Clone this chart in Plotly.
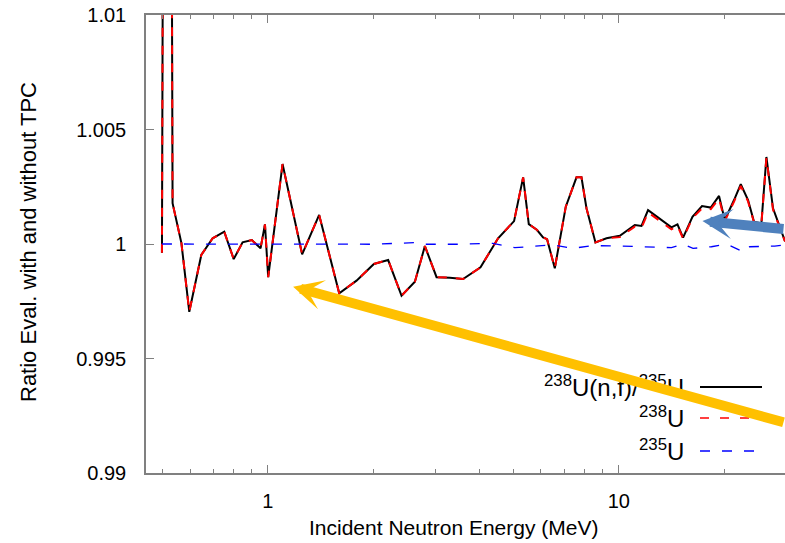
import plotly.graph_objects as go
import numpy as np

# ---------------- data ----------------
energy = [0.499, 0.517, 0.535, 0.567, 0.597, 0.646, 0.696, 0.751, 0.799, 0.847,
          0.900, 0.953, 0.981, 1.002, 1.101, 1.252, 1.400, 1.597, 1.789, 2.005,
          2.202, 2.404, 2.624, 2.802, 3.025, 3.300, 3.600, 4.036, 4.530, 5.031,
          5.339, 5.541, 5.850, 6.085, 6.247, 6.572, 7.063, 7.578, 7.829, 8.091,
          8.583, 9.226, 10.07, 11.11, 11.61, 12.12, 14.13, 14.70, 15.25, 16.22,
          17.27, 18.29, 19.31, 20.05, 21.31, 22.27, 23.36, 24.29, 25.50, 26.35,
          27.52, 29.70, 30.0]

ratio_fission = [0.99962, 1.08, 1.00178, 1.00004, 0.99704, 0.99952, 1.00025, 1.00054, 0.99934, 1.00007,
                 1.00017, 0.99981, 1.00086, 0.99855, 1.00349, 0.99955, 1.00127, 0.99785, 0.99840, 0.99913,
                 0.99930, 0.99774, 0.99835, 0.99991, 0.99855, 0.99853, 0.99847, 0.99898, 1.00025, 1.00100,
                 1.00291, 1.00087, 1.00061, 1.00029, 1.00021, 0.99894, 1.00163, 1.00291, 1.00291, 1.00156,
                 1.00007, 1.00025, 1.00036, 1.00083, 1.00079, 1.00148, 1.00073, 1.00086, 1.00028, 1.00119,
                 1.00166, 1.00159, 1.00210, 1.00105, 1.00192, 1.00261, 1.00192, 1.00097, 1.00090, 1.00380,
                 1.00156, 1.00017, 1.0001]

ratio_u238 = [0.99962, 1.08, 1.00178, 1.00004, 0.99704, 0.99952, 1.00025, 1.00054, 0.99934, 1.00007,
              1.00017, 0.99981, 1.00086, 0.99855, 1.00349, 0.99955, 1.00127, 0.99785, 0.99840, 0.99913,
              0.99930, 0.99774, 0.99835, 0.99991, 0.99855, 0.99853, 0.99847, 0.99898, 1.00025, 1.00100,
              1.00291, 1.00087, 1.00061, 1.00029, 1.00021, 0.99894, 1.00163, 1.00291, 1.00291, 1.00156,
              1.00007, 1.00025, 1.00030, 1.00076, 1.00070, 1.00138, 1.00064, 1.00080, 1.00024, 1.00113,
              1.00156, 1.00152, 1.00198, 1.00100, 1.00185, 1.00254, 1.00186, 1.00094, 1.00088, 1.00375,
              1.00150, 1.00015, 1.0001]

energy_u235 = [0.499, 0.95, 1.0, 1.1, 2.0, 2.624, 2.802, 3.52, 4.375, 5.054,
               5.577, 6.486, 7.396, 8.433, 10.07, 12.12, 14.13, 15.25, 16.28, 18.37,
               20.27, 22.75, 23.61, 27.82, 30.0]
ratio_u235 = [1.0, 1.0, 0.99997, 1.0, 0.99999, 1.00006, 0.99999, 0.99999, 1.00003, 0.99984,
              0.99988, 0.99996, 0.99981, 0.99993, 0.99991, 0.99986, 0.99984, 1.0, 0.99981, 0.99988,
              1.0, 0.99964, 0.99988, 0.99991, 0.99996]

y_ticks = [0.99, 0.995, 1.0, 1.005, 1.01]
y_ticktext = ["0.99", "0.995", "1", "1.005", "1.01"]
x_ticks = [1, 10]
x_ticktext = ["1", "10"]
x_minor = [0.5, 0.6, 0.7, 0.8, 0.9, 2, 3, 4, 5, 6, 7, 8, 9, 20, 30]

legend_labels = ["<sup>238</sup>U(n,f)/<sup>235</sup>U", "<sup>238</sup>U", "<sup>235</sup>U"]
x_title = "Incident Neutron Energy (MeV)"
y_title = "Ratio Eval. with and without TPC"

# ---------------- figure ----------------
FONT = "Liberation Sans, Arial, Helvetica, sans-serif"
W, H = 785, 543
ML, MT, MB, MR = 146, 15, 70, 0
PW, PH = W - ML - MR, H - MT - MB

def px2paper(px, py):
    return (px - ML) / PW, (H - MB - py) / PH

fig = go.Figure()
fig.add_trace(go.Scatter(x=energy, y=ratio_fission, mode="lines",
                         line=dict(color="#000000", width=2), showlegend=False))
fig.add_trace(go.Scatter(x=energy, y=ratio_u238, mode="lines",
                         line=dict(color="#ff0000", width=2, dash="9px,9px"), showlegend=False))
fig.add_trace(go.Scatter(x=energy_u235, y=ratio_u235, mode="lines",
                         line=dict(color="#0000ff", width=1.3, dash="10px,12px"), showlegend=False))

axis_col = "#808080"
fig.update_xaxes(type="log", range=[np.log10(0.4494), np.log10(29.77)],
                 tickvals=x_ticks, ticktext=x_ticktext,
                 ticks="inside", ticklen=8, tickcolor=axis_col, tickwidth=1,
                 minor=dict(tickvals=x_minor, ticks="inside", ticklen=4, tickcolor=axis_col),
                 showline=True, linecolor=axis_col, linewidth=1.5, mirror="ticks",
                 showgrid=False, zeroline=False,
                 tickfont=dict(family=FONT, size=20, color="black"),
                 ticklabelstandoff=9)
fig.update_yaxes(range=[0.99, 1.01], tickvals=y_ticks, ticktext=y_ticktext,
                 ticks="inside", ticklen=8, tickcolor=axis_col, tickwidth=1,
                 showline=True, linecolor=axis_col, linewidth=1.5,
                 showgrid=False, zeroline=False,
                 tickfont=dict(family=FONT, size=20, color="black"),
                 ticklabelstandoff=14)

# axis titles
xt, yt = px2paper(453, 527)
fig.add_annotation(x=xt, y=yt, xref="paper", yref="paper", text=x_title, showarrow=False,
                   xanchor="center", yanchor="middle", font=dict(family=FONT, size=21, color="black"))
xt, yt = px2paper(28, 242)
fig.add_annotation(x=xt, y=yt, xref="paper", yref="paper", text=y_title, showarrow=False,
                   textangle=-90, xanchor="center", yanchor="middle",
                   font=dict(family=FONT, size=22, color="black"))

# legend (gnuplot style: text left, sample right)
legend_rows = [(387, "#000000", "solid", 2), (418, "#ff0000", "9px,11px", 1.5), (451, "#0000ff", "10px,12px", 1.3)]
for (py, col, dash, wd), lab in zip(legend_rows, legend_labels):
    xt, yt = px2paper(686, py - 1)
    fig.add_annotation(x=xt, y=yt, xref="paper", yref="paper", text=lab, showarrow=False,
                       xanchor="right", yanchor="middle",
                       font=dict(family=FONT, size=24, color="black"))
    x0, y0 = px2paper(700, py)
    x1, _ = px2paper(762, py)
    fig.add_shape(type="line", xref="paper", yref="paper", x0=x0, x1=x1, y0=y0, y1=y0,
                  line=dict(color=col, width=wd, dash=dash))

# arrows
fig.add_annotation(x=np.log10(1.180), y=0.998135, xref="x", yref="y", text="",
                   showarrow=True, arrowhead=3, arrowwidth=10, arrowsize=0.5,
                   arrowcolor="#FFC000", ax=492, ay=136, standoff=0)
fig.add_annotation(x=np.log10(17.32), y=1.0010, xref="x", yref="y", text="",
                   showarrow=True, arrowhead=3, arrowwidth=10, arrowsize=0.5,
                   arrowcolor="#4F81BD", ax=84, ay=8, standoff=0)

fig.update_layout(width=W, height=H, margin=dict(l=ML, r=MR, t=MT, b=MB, pad=0),
                  plot_bgcolor="white", paper_bgcolor="white",
                  font=dict(family=FONT, size=20, color="black"))

fig.write_html("out.html")
